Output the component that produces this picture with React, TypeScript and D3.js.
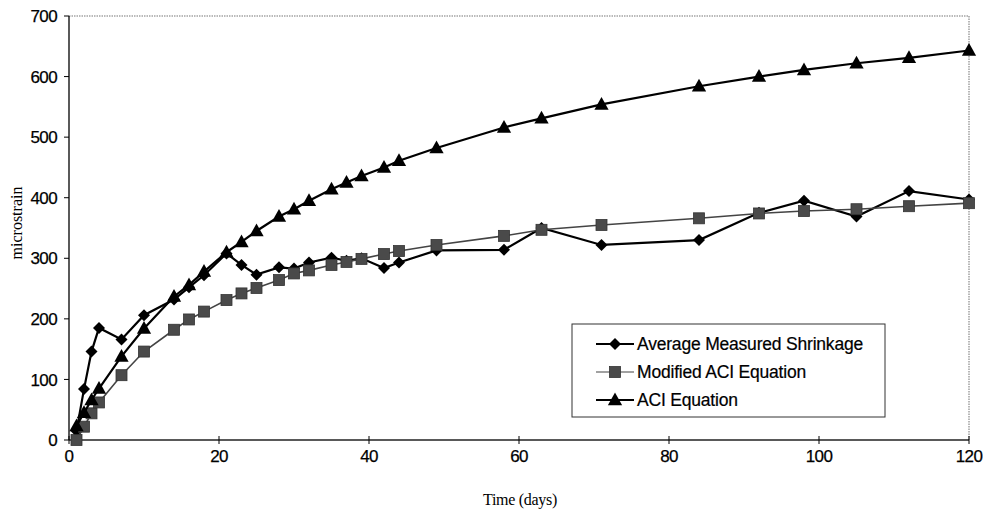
import React from "react";
import * as d3 from "d3";

const days = [1, 2, 3, 4, 7, 10, 14, 16, 18, 21, 23, 25, 28, 30, 32, 35, 37, 39, 42, 44, 49, 58, 63, 71, 84, 92, 98, 105, 112, 120];
const measured = [15, 84, 146, 185, 166, 206, 232, 252, 272, 308, 289, 273, 285, 283, 293, 301, 296, 300, 284, 293, 313, 314, 350, 322, 330, 375, 395, 369, 411, 397];
const modifiedACI = [0, 22, 44, 62, 107, 146, 182, 199, 212, 231, 242, 251, 264, 275, 280, 289, 294, 299, 307, 312, 322, 337, 347, 355, 366, 374, 378, 381, 386, 391];
const aci = [23, 45, 66, 85, 138, 184, 237, 256, 278, 310, 327, 345, 369, 381, 395, 414, 425, 436, 450, 461, 482, 516, 531, 554, 584, 600, 611, 622, 631, 643];
const seriesNames = ["Average Measured Shrinkage", "Modified ACI Equation", "ACI Equation"];
const xTicks = [0, 20, 40, 60, 80, 100, 120];
const yTicks = [0, 100, 200, 300, 400, 500, 600, 700];

const L = 69, R = 969, T = 16, B = 440;

function Marker({ kind, x, y }: { kind: string; x: number; y: number }) {
  if (kind === "diamond") {
    const s = 6;
    return <path d={`M${x},${y - s}L${x + s},${y}L${x},${y + s}L${x - s},${y}Z`} fill="#000" />;
  }
  if (kind === "square") {
    const s = 5.5;
    return <rect x={x - s} y={y - s} width={2 * s} height={2 * s} fill="#4a4a4a" stroke="#333" strokeWidth={0.8} />;
  }
  const s = 7.5;
  return <path d={`M${x},${y - s}L${x + s * 0.95},${y + s * 0.7}L${x - s * 0.95},${y + s * 0.7}Z`} fill="#000" />;
}

export default function App() {
  const x = d3.scaleLinear().domain([0, 120]).range([L, R]);
  const y = d3.scaleLinear().domain([0, 700]).range([B, T]);
  const series = [
    { name: seriesNames[0], values: measured, kind: "diamond", stroke: "#000", width: 2.2 },
    { name: seriesNames[1], values: modifiedACI, kind: "square", stroke: "#444", width: 1.6 },
    { name: seriesNames[2], values: aci, kind: "triangle", stroke: "#000", width: 2.2 },
  ];
  const line = (vals: number[]) =>
    d3.line<number>().x((_, i) => x(days[i])).y((v) => y(v))(vals) || "";

  const sans = "'Liberation Sans', Arial, sans-serif";
  const serif = "'Liberation Serif', 'Times New Roman', serif";

  return (
    <svg width={983} height={514} style={{ position: "absolute", left: 0, top: 0, background: "#fff" }}>
      <rect width={983} height={514} fill="#fff" />
      {/* frame top/right dotted */}
      <line x1={L} y1={T} x2={R} y2={T} stroke="#777" strokeWidth={1.2} strokeDasharray="1.5 1" />
      <line x1={R} y1={T} x2={R} y2={B} stroke="#888" strokeWidth={1.2} strokeDasharray="1.5 1" />
      {/* axes */}
      <line x1={L} y1={T} x2={L} y2={B} stroke="#000" strokeWidth={1.3} />
      <line x1={L} y1={B} x2={R} y2={B} stroke="#222" strokeWidth={1.3} />
      {yTicks.map((t) => (
        <g key={"y" + t}>
          <line x1={L - 5} x2={L} y1={y(t)} y2={y(t)} stroke="#000" strokeWidth={1} />
          <text x={57} y={y(t)} dy="0.36em" textAnchor="end" fontFamily={sans} fontSize={17} fill="#000" letterSpacing={-0.6} stroke="#000" strokeWidth={0.25}>
            {t}
          </text>
        </g>
      ))}
      {xTicks.map((t) => (
        <g key={"x" + t}>
          <line x1={x(t)} x2={x(t)} y1={B - 4} y2={B + 4} stroke="#000" strokeWidth={1} />
          <text x={x(t)} y={462} textAnchor="middle" fontFamily={sans} fontSize={17} fill="#000" letterSpacing={-0.6} stroke="#000" strokeWidth={0.25}>
            {t}
          </text>
        </g>
      ))}
      <text x={520} y={505} textAnchor="middle" fontFamily={serif} fontSize={16} fill="#000" letterSpacing={-0.3}>
        Time (days)
      </text>
      <text
        transform={`translate(22,223) rotate(-90)`}
        textAnchor="middle"
        fontFamily={serif}
        fontSize={16}
        fill="#000"
      >
        microstrain
      </text>
      {/* series */}
      {series.map((s) => (
        <g key={s.name}>
          <path d={line(s.values)} fill="none" stroke={s.stroke} strokeWidth={s.width} />
          {s.values.map((v, i) => (
            <Marker key={i} kind={s.kind} x={x(days[i])} y={y(v)} />
          ))}
        </g>
      ))}
      {/* legend */}
      <rect x={572} y={324} width={313} height={93} fill="#fff" stroke="#333" strokeWidth={1} />
      {series.map((s, i) => {
        const ly = 344 + i * 28;
        return (
          <g key={"lg" + i}>
            <line x1={596} x2={634} y1={ly} y2={ly} stroke={s.stroke} strokeWidth={s.width - 0.4} />
            <Marker kind={s.kind} x={615} y={ly} />
            <text x={637} y={ly} dy="0.36em" fontFamily={sans} fontSize={17.5} fill="#000" letterSpacing={-0.2} stroke="#000" strokeWidth={0.2}>
              {s.name}
            </text>
          </g>
        );
      })}
    </svg>
  );
}
